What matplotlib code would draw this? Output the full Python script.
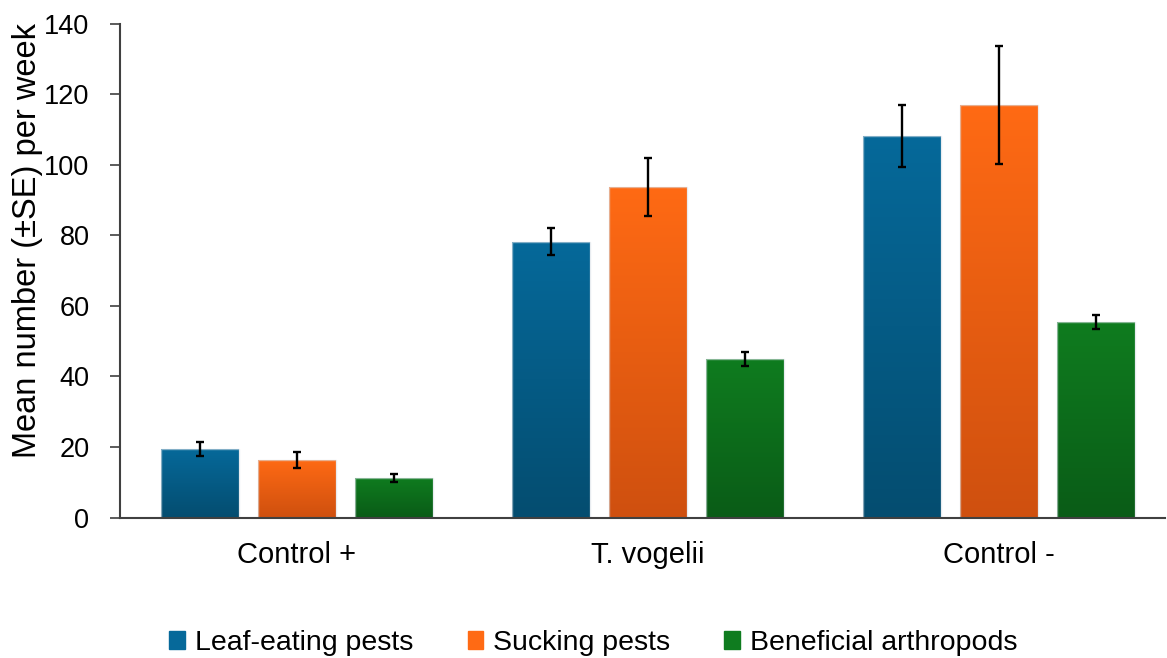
import numpy as np
import matplotlib.pyplot as plt
from matplotlib.colors import LinearSegmentedColormap

plt.rcParams['font.family'] = ['Liberation Sans', 'DejaVu Sans']

groups = ["Control +", "T. vogelii", "Control -"]
series = ["Leaf-eating pests", "Sucking pests", "Beneficial arthropods"]
leaf = [19.4, 78.2, 108.1]
leaf_se = [1.9, 3.9, 8.8]
sucking = [16.2, 93.7, 116.9]
sucking_se = [2.3, 8.3, 16.8]
beneficial = [11.2, 44.8, 55.3]
beneficial_se = [1.0, 2.0, 2.0]

values = [leaf, sucking, beneficial]
errors = [leaf_se, sucking_se, beneficial_se]
# (top colour, bottom colour) for the gradient fill
grads = [("#06699a", "#044d70"), ("#ff6a14", "#cf500f"), ("#0f7c1f", "#0a5c17")]

fig = plt.figure(figsize=(11.67, 6.58), dpi=100)
ax = fig.add_axes([120 / 1167, (658 - 517.5) / 658, 1045 / 1167, 494 / 658])

x = np.arange(len(groups))
width = 0.222
step = 0.276

for i in range(3):
    pos = x + (i - 1) * step
    cmap = LinearSegmentedColormap.from_list("g%d" % i, [grads[i][1], grads[i][0]])
    bars = ax.bar(pos, values[i], width, color="none", edgecolor="none", zorder=2)
    for b in bars:
        x0, y0 = b.get_x(), b.get_y()
        w, h = b.get_width(), b.get_height()
        grad = np.linspace(0, 1, 256).reshape(-1, 1)
        im = ax.imshow(grad, cmap=cmap, origin="lower", aspect="auto",
                       extent=[x0, x0 + w, y0, y0 + h], zorder=2)
        im.set_clip_path(b)
        # faint light outline like the original
        ax.add_patch(plt.Rectangle((x0, y0), w, h, fill=False,
                                   edgecolor=(0.85, 0.88, 0.9, 0.6), lw=1.0, zorder=2.5))
    ax.errorbar(pos, values[i], yerr=errors[i], fmt="none", ecolor="black",
                elinewidth=1.7, capsize=2.8, capthick=1.7, zorder=3)

ax.set_xlim(-0.504, 2.473)
ax.set_ylim(0, 140)
ax.set_yticks(np.arange(0, 141, 20))
ax.set_xticks(x)
ax.set_xticklabels(groups, fontsize=21)
ax.tick_params(axis="x", length=0, pad=17)
ax.tick_params(axis="y", labelsize=19.5, length=7, width=1.2, color="#404040", pad=15)
for s in ["top", "right"]:
    ax.spines[s].set_visible(False)
for s in ["left", "bottom"]:
    ax.spines[s].set_color("#404040")
    ax.spines[s].set_linewidth(1.5)
ax.set_ylabel("Mean number (\u00b1SE) per week", fontsize=23.5)
ax.yaxis.set_label_coords(-0.074, 0.56)

handles = [plt.Rectangle((0, 0), 1, 1, color=grads[i][0]) for i in range(3)]
fig.legend(handles, series, loc="center", bbox_to_anchor=(593.5 / 1167, 1 - 643 / 658),
           ncol=3, frameon=False, fontsize=20.5, handlelength=0.55, handleheight=0.55,
           handletextpad=0.35, columnspacing=1.9, borderpad=0)

fig.savefig("out.png", dpi=100)
